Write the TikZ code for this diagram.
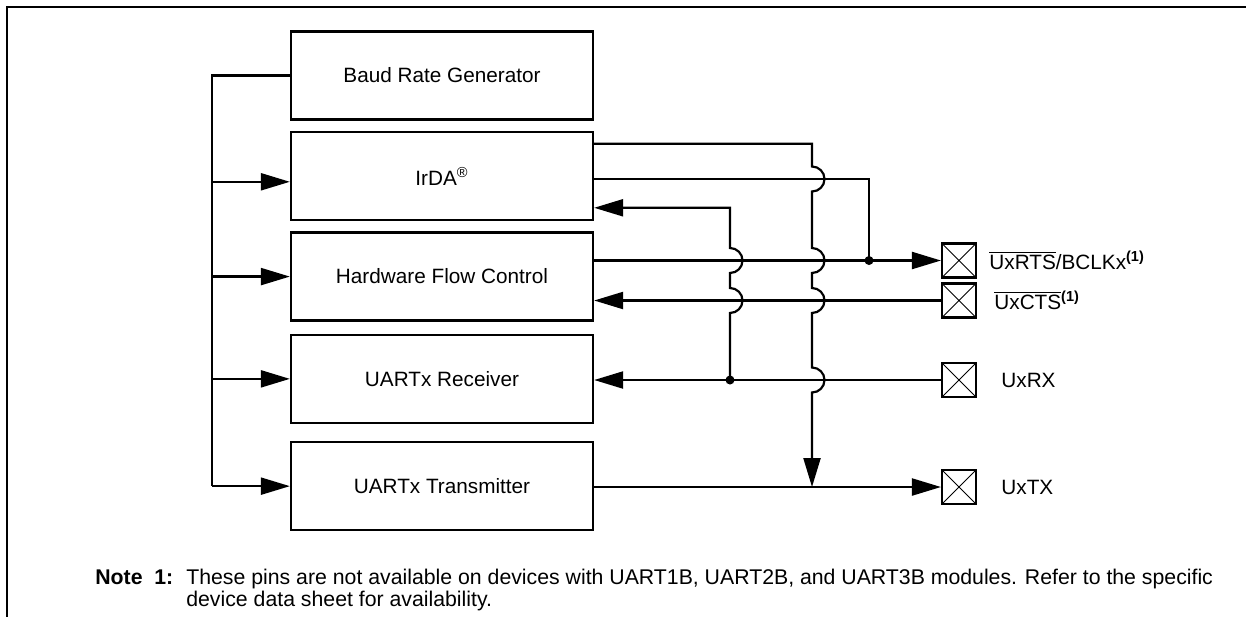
\documentclass[tikz,border=0pt]{standalone}
\usepackage{fontspec}
\setmainfont{Liberation Sans}
\usetikzlibrary{arrows.meta, positioning}

\begin{document}
\begin{tikzpicture}[every node/.style={font=\fontsize{11.8}{14}\selectfont},
    block/.style={draw, rectangle, line width=1.3pt, minimum width=6.04cm, minimum height=1.76cm},
    pad/.style={draw, rectangle, line width=1.2pt, minimum size=0.68cm, inner sep=0pt,
        path picture={\draw[line width=0.5pt] (path picture bounding box.north west) -- (path picture bounding box.south east)
            (path picture bounding box.south west) -- (path picture bounding box.north east);}},
    padlabel/.style={anchor=west, inner sep=0pt},
    notetext/.style={anchor=base west, inner sep=0pt, font=\fontsize{12.1}{14}\selectfont},
    wire/.style={line width=1.25pt},
    sig/.style={wire, -{Triangle[length=5.8mm, width=3.4mm]}},
    tap/.style={circle, fill, inner sep=0pt, minimum size=0.18cm}]
    \useasboundingbox (0,0) rectangle (24.92,-12.34);
    \draw[wire] (24.92,-0.14) -- (0.14,-0.14) -- (0.14,-12.34);

    % module blocks
    \node[block] (baud) at (8.84,-1.51) {Baud Rate Generator};
    \node[block, below=0.21cm of baud] (irda) {IrDA\textsuperscript{\textregistered}};
    \node[block, below=0.20cm of irda] (hfc) {Hardware Flow Control};
    \node[block, below=0.24cm of hfc] (rx) {UARTx Receiver};
    \node[block, below=0.34cm of rx] (tx) {UARTx Transmitter};

    % pins
    \node[pad] (prts) at (19.18,-5.21) {};
    \node[pad] (pcts) at (19.18,-6.01) {};
    \node[pad] (prx) at (19.18,-7.60) {};
    \node[pad] (ptx) at (19.18,-9.74) {};
    \node[padlabel, right=0.24cm of prts] {\(\overline{\mbox{UxRTS}}\)/BCLKx\textsuperscript{\bfseries(1)}};
    \node[padlabel, right=0.34cm of pcts] {\(\overline{\mbox{UxCTS}}\)\textsuperscript{\bfseries(1)}};
    \node[padlabel, right=0.48cm of prx] {UxRX};
    \node[padlabel, right=0.48cm of ptx] {UxTX};

    % clock bus on the left
    \coordinate (bus) at (4.24,0);
    \draw[wire] (baud.west) -| (tx.west -| bus);
    \foreach \blk/\dy in {irda/-0.11, hfc/0, rx/0, tx/0}
        \draw[sig] ([yshift=\dy cm]\blk.west -| bus) -- ([yshift=\dy cm]\blk.west);

    % junctions
    \coordinate (rxtap) at (14.60,-7.60);
    \coordinate (rtstap) at (17.38,-5.21);
    \node[tap] at (rxtap) {};
    \node[tap] at (rtstap) {};

    \draw[sig] (hfc.east |- prts) -- (prts.west);
    \draw[sig] (pcts.west) -- (pcts -| hfc.east);
    \draw[sig] (prx.west) -- (prx -| rx.east);
    \draw[sig] (tx.east |- ptx) -- (ptx.west);
    \draw[wire] ([yshift=-0.05cm]irda.east) -| (rtstap);
    % receive line back into IrDA, hopping over RTS and CTS
    \draw[sig] (rxtap) -- (14.60,-6.26) arc[start angle=-90, end angle=90, radius=0.25cm]
        -- (14.60,-5.46) arc[start angle=-90, end angle=90, radius=0.25cm]
        |- ([yshift=-0.63cm]irda.east);
    % IrDA transmit line down to TX
    \draw[sig] ([yshift=0.65cm]irda.east) -| (16.24,-3.33) arc[start angle=90, end angle=-90, radius=0.25cm]
        -- (16.24,-4.96) arc[start angle=90, end angle=-90, radius=0.25cm]
        -- (16.24,-5.76) arc[start angle=90, end angle=-90, radius=0.25cm]
        -- (16.24,-7.35) arc[start angle=90, end angle=-90, radius=0.25cm]
        -- (ptx -| 16.24,0);

    % footnote
    \node[notetext] (notehead) at (1.90,-11.69) {\textbf{Note\ \ 1:}};
    \node[notetext] (note1) at (3.72,-11.69) {These pins are not available on devices with UART1B, UART2B, and UART3B modules. Refer to the specific};
    \node[notetext] (note2) at (3.72,-12.13) {device data sheet for availability.};
\end{tikzpicture}
\end{document}
